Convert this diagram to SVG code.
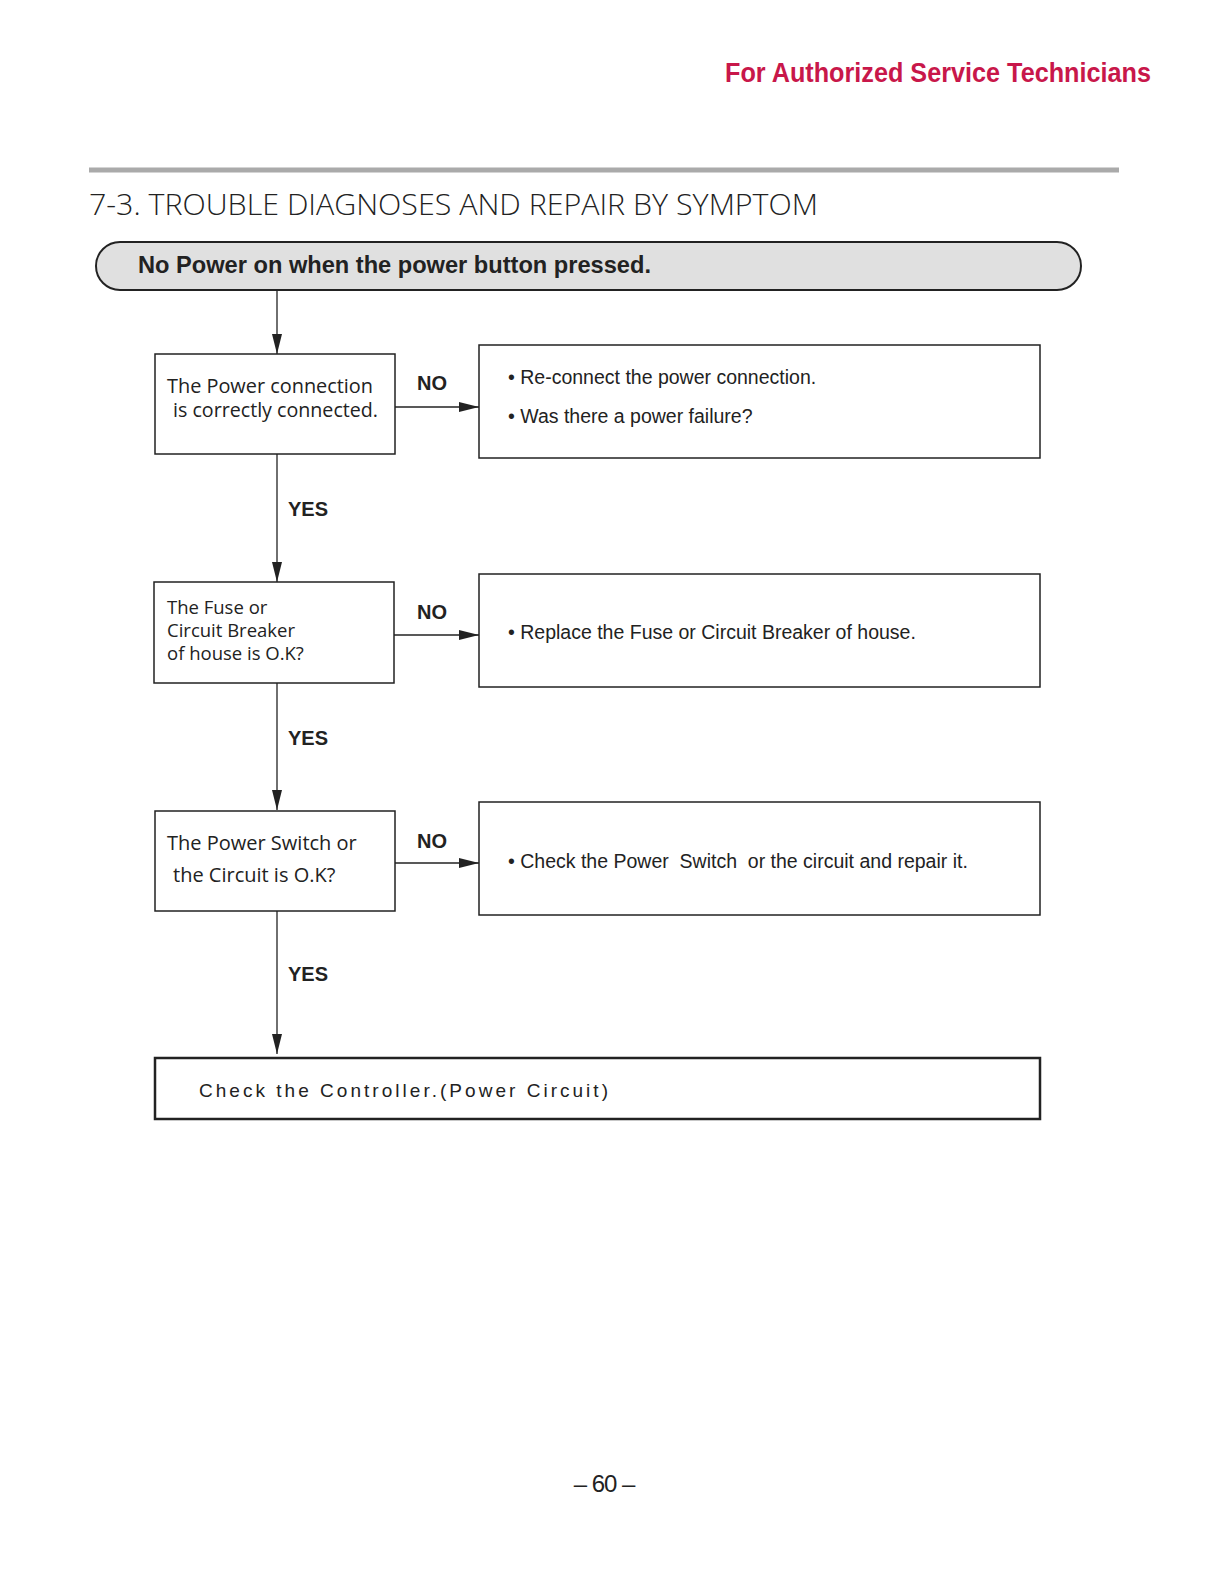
<svg xmlns="http://www.w3.org/2000/svg" width="1219" height="1582" viewBox="0 0 1219 1582">
<style>
.box{fill:#fff;stroke:#222;stroke-width:1.5}
.q{font-family:"Open Sans","DejaVu Sans",sans-serif;font-size:20px;fill:#222}
.q2{font-family:"Open Sans","DejaVu Sans",sans-serif;font-size:18.5px;fill:#222}
.a{font-family:"Liberation Sans",Arial,sans-serif;font-size:19.5px;fill:#222}
.lbl{font-family:"Liberation Sans",Arial,sans-serif;font-size:20px;font-weight:bold;fill:#222}
.conn{stroke:#222;stroke-width:1.3;fill:none;marker-end:url(#ah)}
</style>
<defs>
<marker id="ah" markerUnits="userSpaceOnUse" markerWidth="20" markerHeight="10" refX="20" refY="5" orient="auto">
<path d="M0,0 L20,5 L0,10 Z" fill="#222"/>
</marker>
</defs>
<rect width="1219" height="1582" fill="#fff"/>
<text x="1151" y="82" text-anchor="end" font-family="Liberation Sans,Arial,sans-serif" font-weight="bold" font-size="28" fill="#c8174a" textLength="426" lengthAdjust="spacingAndGlyphs">For Authorized Service Technicians</text>
<line x1="89" y1="170" x2="1119" y2="170" stroke="#aaa" stroke-width="5"/>
<text x="89" y="215" font-family="Open Sans,DejaVu Sans,sans-serif" font-weight="300" font-size="29" fill="#222" textLength="729" lengthAdjust="spacingAndGlyphs">7-3. TROUBLE DIAGNOSES AND REPAIR BY SYMPTOM</text>

<g id="start">
<rect x="96" y="242" width="985" height="48" rx="24" ry="24" fill="#e0e0e0" stroke="#222" stroke-width="2"/>
<text x="138" y="273" font-family="Liberation Sans,Arial,sans-serif" font-weight="bold" font-size="24" fill="#222" textLength="513" lengthAdjust="spacingAndGlyphs">No Power on when the power button pressed.</text>
</g>

<g id="connectors">
<line class="conn" x1="277" y1="290" x2="277" y2="354"/>
<line class="conn" x1="395" y1="407" x2="479" y2="407"/>
<line class="conn" x1="277" y1="454" x2="277" y2="582"/>
<line class="conn" x1="394" y1="635" x2="479" y2="635"/>
<line class="conn" x1="277" y1="683" x2="277" y2="810"/>
<line class="conn" x1="395" y1="863" x2="479" y2="863"/>
<line class="conn" x1="277" y1="911" x2="277" y2="1054"/>
<text class="lbl" x="417" y="390">NO</text>
<text class="lbl" x="288" y="516">YES</text>
<text class="lbl" x="417" y="619">NO</text>
<text class="lbl" x="288" y="745">YES</text>
<text class="lbl" x="417" y="848">NO</text>
<text class="lbl" x="288" y="981">YES</text>
</g>

<g id="q1">
<rect class="box" x="155" y="354" width="240" height="100"/>
<text class="q" x="167" y="393" textLength="206" lengthAdjust="spacingAndGlyphs">The Power connection</text>
<text class="q" x="173" y="417" textLength="205" lengthAdjust="spacingAndGlyphs">is correctly connected.</text>
</g>
<g id="a1">
<rect class="box" x="479" y="345" width="561" height="113"/>
<text class="a" x="508" y="384">• Re-connect the power connection.</text>
<text class="a" x="508" y="423">• Was there a power failure?</text>
</g>

<g id="q2">
<rect class="box" x="154" y="582" width="240" height="101"/>
<text class="q2" x="167" y="614">The Fuse or</text>
<text class="q2" x="167" y="637">Circuit Breaker</text>
<text class="q2" x="167" y="660">of house is O.K?</text>
</g>
<g id="a2">
<rect class="box" x="479" y="574" width="561" height="113"/>
<text class="a" x="508" y="639">• Replace the Fuse or Circuit Breaker of house.</text>
</g>

<g id="q3">
<rect class="box" x="155" y="811" width="240" height="100"/>
<text class="q" x="167" y="850">The Power Switch or</text>
<text class="q" x="173" y="882">the Circuit is O.K?</text>
</g>
<g id="a3">
<rect class="box" x="479" y="802" width="561" height="113"/>
<text class="a" x="508" y="868" xml:space="preserve">• Check the Power  Switch  or the circuit and repair it.</text>
</g>

<g id="final">
<rect x="155" y="1058" width="885" height="61" fill="#fff" stroke="#222" stroke-width="2.5"/>
<text x="199" y="1097" font-family="Liberation Sans,Arial,sans-serif" font-size="19" fill="#222" letter-spacing="2" textLength="411" lengthAdjust="spacing">Check the Controller.(Power Circuit)</text>
</g>

<text x="604" y="1492" text-anchor="middle" font-family="Liberation Sans,Arial,sans-serif" font-size="24" fill="#222" letter-spacing="-1">– 60 –</text>
</svg>
